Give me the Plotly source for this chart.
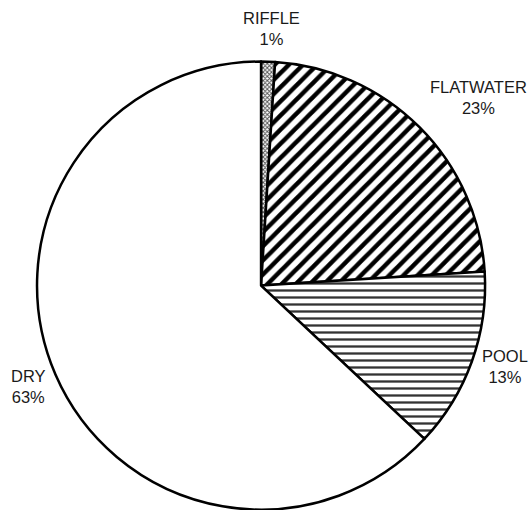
import plotly.graph_objects as go

# Share of surveyed channel length by habitat type
habitats = ["RIFFLE", "FLATWATER", "POOL", "DRY"]
shares = [1, 23, 13, 63]

# fill pattern for each slice
pattern_shapes = ["x", "/", "-", ""]
pattern_sizes = [3, 10, 7, 8]
pattern_solidity = [0.55, 0.45, 0.33, 0.3]
pattern_fg = ["#555555", "#000000", "#333333", "#000000"]

# label anchor positions (paper coords)
label_x = [0.514, 0.905, 0.955, 0.053]
label_y = [0.945, 0.808, 0.282, 0.243]

fig = go.Figure(
    go.Pie(
        labels=habitats,
        values=shares,
        sort=False,
        direction="clockwise",
        rotation=0,
        textinfo="none",
        hoverinfo="label+percent",
        marker=dict(
            colors=["white"] * len(habitats),
            line=dict(color="black", width=2.5),
            pattern=dict(
                shape=pattern_shapes,
                size=pattern_sizes,
                solidity=pattern_solidity,
                fgcolor=pattern_fg,
                fgopacity=1,
                bgcolor="white",
                fillmode="overlay",
            ),
        ),
        domain=dict(x=[0.07, 0.917], y=[0.0, 0.88]),
        showlegend=False,
    )
)

for name, val, x, y in zip(habitats, shares, label_x, label_y):
    fig.add_annotation(
        x=x, y=y, xref="paper", yref="paper",
        text=f"{name}<br>{val}%",
        showarrow=False,
        font=dict(family="Liberation Sans, Arial, sans-serif", size=16.5, color="#1a1a1a"),
        align="center",
        xanchor="center", yanchor="middle",
    )

fig.update_layout(
    width=529, height=510,
    margin=dict(l=0, r=0, t=0, b=0),
    paper_bgcolor="white",
    plot_bgcolor="white",
)

fig.write_html("out.html")
